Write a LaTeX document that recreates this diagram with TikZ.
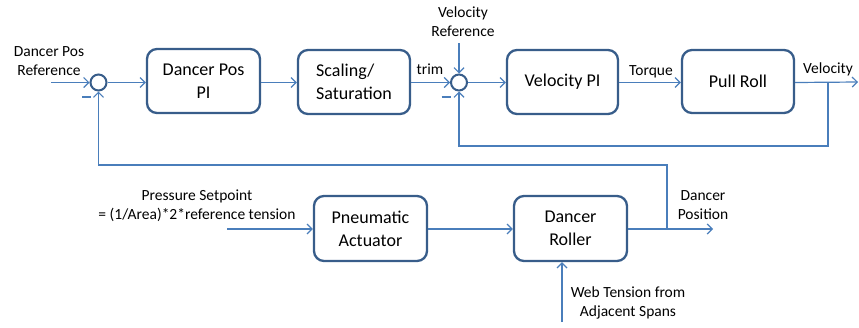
\documentclass[tikz,border=0pt]{standalone}
\usepackage{fontspec}
\setmainfont{Carlito}
\usetikzlibrary{arrows.meta,calc}
\definecolor{boxblue}{HTML}{385D8A}
\definecolor{lineblue}{HTML}{4A7EBB}
\tikzset{
  blk/.style={draw=boxblue, line width=2.3pt, rounded corners=10pt, fill=white, inner sep=0pt, font=\fontsize{18}{23}\selectfont, align=center},
  sumj/.style={draw=boxblue, line width=2pt, circle, minimum size=16pt, inner sep=0pt, fill=white},
  lbl/.style={font=\fontsize{15.5}{19}\selectfont, align=center, inner sep=0pt, text=black},
  minus/.style={inner sep=0pt, text=lineblue},
  conn/.style={draw=lineblue, line width=1.2pt},
  arr/.style={conn, -{Straight Barb[length=5pt,width=10pt,line width=1.2pt]}}
}
\newcommand{\minussign}{\rule{9pt}{1.4pt}}
\begin{document}
\begin{tikzpicture}[x=1pt,y=-1pt]
\useasboundingbox (0,0) rectangle (859,327);

% top row
\node[sumj] (s1) at (98.5,82.5) {};
\node[blk, minimum width=113pt, minimum height=64pt] (b1) at (203.5,81) {Dancer Pos\\PI};
\node[blk, minimum width=112pt, minimum height=64pt, align=left] (b2) at (354,82) {Scaling/\\Saturation};
\node[sumj] (s2) at (459,82.5) {};
\node[blk, minimum width=111pt, minimum height=64pt] (b3) at (562.5,82) {Velocity PI};
\node[blk, minimum width=112pt, minimum height=63pt] (b4) at (738,81.5) {Pull Roll};

% bottom row
\node[blk, minimum width=113pt, minimum height=65pt] (b5) at (370.5,228.5) {Pneumatic\\Actuator};
\node[blk, minimum width=113pt, minimum height=65pt] (b6) at (570.5,228.5) {Dancer\\Roller};

% coordinates
\coordinate (in1) at (51,82.5);
\coordinate (vref) at (459,43);
\coordinate (vout) at (858,82);
\coordinate (tapV) at (828,82);
\coordinate (in2) at (227,229);
\coordinate (dout) at (713,229);
\coordinate (tapD) at (667,229);
\coordinate (web) at (562,322);

% labels
\node[lbl] (lref) at (49,61.5) {Dancer Pos\\Reference};
\node[lbl] (lvref) at (463,22) {Velocity\\Reference};
\node[lbl] (ltrim) at (430,69) {trim};
\node[lbl] (ltorque) at (651,72) {Torque};
\node[lbl] (lvel) at (828,69) {Velocity};
\node[lbl] (lpress) at (197,205.5) {Pressure Setpoint\\= (1/Area)*2*reference tension};
\node[lbl] (ldpos) at (703,205.5) {Dancer\\Position};
\node[lbl] (lweb) at (628,303) {Web Tension from\\Adjacent Spans};
\node[minus] (m1) at (86.5,97) {\minussign};
\node[minus] (m2) at (446,97) {\minussign};

% connectors top
\draw[arr] (in1) -- (s1.west);
\draw[arr] (s1.east) -- (b1.west |- s1);
\draw[arr] (b1.east |- s1) -- (b2.west |- s1);
\draw[arr] (b2.east |- s2) -- (s2.west);
\draw[arr] (vref) -- (s2.north);
\draw[arr] (s2.east) -- (b3.west |- s2);
\draw[arr] (b3.east |- s2) -- (b4.west |- s2);
\draw[arr] (b4.east |- s2) -- (vout);
\draw[arr] (tapV) -- ++(0,64) -| (s2.south);

% connectors bottom
\draw[arr] (in2) -- (b5.west |- in2);
\draw[arr] (b5.east |- in2) -- (b6.west |- in2);
\draw[arr] (b6.east |- in2) -- (dout);
\draw[arr] (tapD) -- ++(0,-64) -| (s1.south);
\draw[arr] (web) -- (web |- b6.south);
\end{tikzpicture}
\end{document}
